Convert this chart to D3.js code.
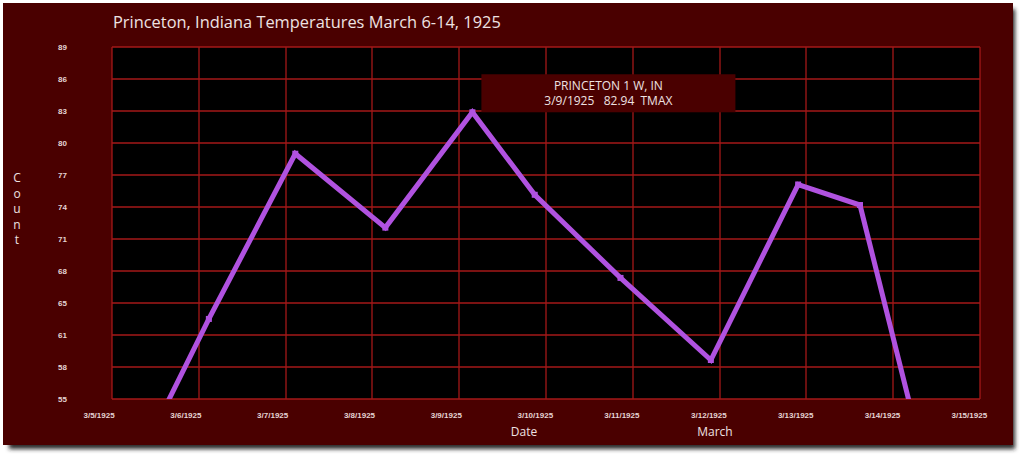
<!DOCTYPE html>
<html>
<head>
<meta charset="utf-8">
<script src="https://cdn.jsdelivr.net/npm/d3@7"></script>
<style>
  html, body { margin: 0; padding: 0; background: #ffffff; }
  svg { display: block; }
</style>
</head>
<body>
<svg id="chart" width="1024" height="456"></svg>
<script>
// ---- data ----
const titleText = "Princeton, Indiana Temperatures March 6-14, 1925";
const dates = [
  "1925-03-05T04:00",
  "1925-03-06T02:47",
  "1925-03-07T02:41",
  "1925-03-08T03:35",
  "1925-03-09T03:39",
  "1925-03-09T20:53",
  "1925-03-10T20:36",
  "1925-03-11T21:35",
  "1925-03-12T21:43",
  "1925-03-13T14:49",
  "1925-03-14T06:00"
];
const tmax = [46.6, 62.8, 78.9, 71.7, 82.94, 74.9, 66.8, 58.8, 75.9, 73.9, 52.5];
const yDomain = [55, 89.3];
const yTickLabels = ["55", "58", "61", "65", "68", "71", "74", "77", "80", "83", "86", "89"];
const xDomain = ["1925-03-05T00:00", "1925-03-15T00:00"];
const tooltipLines = ["PRINCETON 1 W, IN", "3/9/1925   82.94  TMAX"];
const tooltipIndex = 4;

// ---- layout ----
const plot = { left: 112, right: 980, top: 47, bottom: 399 };
const panelBg = "#4a0000";
const gridColor = "#a41818";
const lineColor = "#b052e0";
const textColor = "#eee2e2";

const parse = d3.timeParse("%Y-%m-%dT%H:%M");
const data = dates.map((d, i) => ({ date: parse(d), value: tmax[i] }));

const svg = d3.select("#chart");

// shadow + panel
const defs = svg.append("defs");
const blur = defs.append("filter").attr("id", "sh").attr("x", "-5%").attr("y", "-5%").attr("width", "110%").attr("height", "110%");
blur.append("feGaussianBlur").attr("stdDeviation", 2);
defs.append("clipPath").attr("id", "plotClip")
  .append("rect")
  .attr("x", plot.left).attr("y", plot.top)
  .attr("width", plot.right - plot.left).attr("height", plot.bottom - plot.top);

svg.append("rect").attr("x", 9).attr("y", 9).attr("width", 1006).attr("height", 440)
  .attr("fill", "#2a2a2a").attr("filter", "url(#sh)");
svg.append("rect").attr("x", 3).attr("y", 3).attr("width", 1010).attr("height", 442)
  .attr("fill", panelBg);

// plot background
svg.append("rect")
  .attr("x", plot.left).attr("y", plot.top)
  .attr("width", plot.right - plot.left).attr("height", plot.bottom - plot.top)
  .attr("fill", "#000000");

// scales
const x = d3.scaleTime().domain(xDomain.map(parse)).range([plot.left, plot.right]);
const y = d3.scaleLinear().domain(yDomain).range([plot.bottom, plot.top]);
const yTickValues = d3.range(yTickLabels.length).map(i =>
  yDomain[0] + i * (yDomain[1] - yDomain[0]) / (yTickLabels.length - 1));
const xTickValues = d3.timeDay.range(x.domain()[0], d3.timeDay.offset(x.domain()[1], 1));

// grid: horizontal
const yGrid = d3.axisLeft(y).tickValues(yTickValues).tickSize(-(plot.right - plot.left)).tickFormat("").offset(0);
svg.append("g").attr("transform", `translate(${plot.left},0)`).call(yGrid)
  .call(g => g.select(".domain").remove())
  .call(g => g.selectAll(".tick").attr("transform", d => `translate(0,${Math.round(y(d))})`))
  .call(g => g.selectAll("line").attr("stroke", gridColor).attr("stroke-width", 1.3));

// grid: vertical
const xGrid = d3.axisBottom(x).tickValues(xTickValues).tickSize(-(plot.bottom - plot.top)).tickFormat("").offset(0);
svg.append("g").attr("transform", `translate(0,${plot.bottom})`).call(xGrid)
  .call(g => g.select(".domain").remove())
  .call(g => g.selectAll(".tick").attr("transform", d => `translate(${Math.round(x(d))},0)`))
  .call(g => g.selectAll("line").attr("stroke", gridColor).attr("stroke-width", 1.3));

// y tick labels
const yAxis = d3.axisLeft(y).tickValues(yTickValues).tickSize(0)
  .tickFormat((d, i) => yTickLabels[i]);
svg.append("g").attr("transform", `translate(${plot.left},0)`).call(yAxis)
  .call(g => g.select(".domain").remove())
  .call(g => g.selectAll("text")
    .attr("x", 58 - plot.left).attr("text-anchor", "start").attr("dy", "0.35em")
    .attr("fill", "#e4d4d4").attr("font-family", "Liberation Sans, Arial, sans-serif")
    .attr("font-weight", "bold").attr("font-size", 8));

// x tick labels
const xAxis = d3.axisBottom(x).tickValues(xTickValues).tickSize(0)
  .tickFormat(d3.timeFormat("%-m/%-d/%Y"));
svg.append("g").attr("transform", `translate(0,${plot.bottom})`).call(xAxis)
  .call(g => g.select(".domain").remove())
  .call(g => g.selectAll("text")
    .attr("y", 16).attr("dy", "0.35em").attr("dx", -29).attr("text-anchor", "start")
    .attr("fill", "#e4d4d4").attr("font-family", "Liberation Sans, Arial, sans-serif")
    .attr("font-weight", "bold").attr("font-size", 8));

// line
const line = d3.line().x(d => x(d.date)).y(d => y(d.value));
const series = svg.append("g").attr("clip-path", "url(#plotClip)");
series.append("path").datum(data)
  .attr("d", line).attr("fill", "none")
  .attr("stroke", lineColor).attr("stroke-width", 5)
  .attr("stroke-linejoin", "miter").attr("stroke-linecap", "butt");
series.selectAll("rect.pt").data(data).join("rect").attr("class", "pt")
  .attr("x", d => x(d.date) - 3).attr("y", d => y(d.value) - 3)
  .attr("width", 6).attr("height", 6).attr("fill", lineColor);

// title
svg.append("text").attr("x", 113).attr("y", 28)
  .attr("fill", textColor).attr("font-family", "Open Sans, sans-serif")
  .attr("font-size", 16.4).text(titleText);

// axis titles
svg.append("text").attr("x", 524).attr("y", 436).attr("text-anchor", "middle")
  .attr("fill", textColor).attr("font-family", "Open Sans, sans-serif")
  .attr("font-size", 12).text("Date");
svg.append("text").attr("x", 715).attr("y", 436).attr("text-anchor", "middle")
  .attr("fill", textColor).attr("font-family", "Open Sans, sans-serif")
  .attr("font-size", 12).text("March");
const countT = svg.append("text").attr("fill", textColor)
  .attr("font-family", "Open Sans, sans-serif").attr("font-size", 12).attr("text-anchor", "middle");
"Count".split("").forEach((c, i) => {
  countT.append("tspan").attr("x", 17).attr("y", 182 + i * 15.5).text(c);
});

// tooltip
const tp = data[tooltipIndex];
const tx = x(tp.date) + 9, ty = y(tp.value) - 38;
svg.append("rect").attr("x", tx).attr("y", ty).attr("width", 254).attr("height", 38)
  .attr("fill", panelBg);
tooltipLines.forEach((t, i) => {
  svg.append("text").attr("x", tx + 127).attr("y", ty + 16 + i * 15)
    .attr("text-anchor", "middle").attr("fill", textColor)
    .attr("font-family", "Open Sans, sans-serif").attr("font-size", 12)
    .attr("xml:space", "preserve").style("white-space", "pre").text(t);
});
</script>
</body>
</html>
